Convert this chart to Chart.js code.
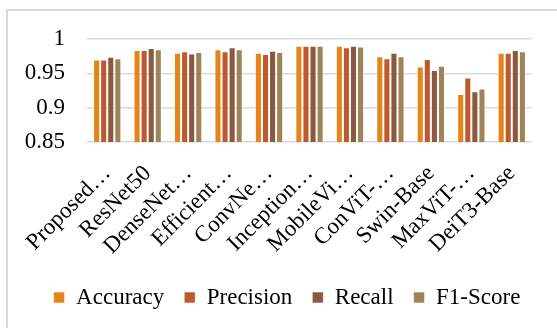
<!DOCTYPE html>
<html>
<head>
<meta charset="utf-8">
<script src="https://cdn.jsdelivr.net/npm/chart.js@4.4.0/dist/chart.umd.min.js"></script>
<style>
  html, body { margin: 0; padding: 0; background: #fff; }
  #wrap { position: relative; width: 557px; height: 328px; overflow: hidden; }
  #frame { position: absolute; left: 6px; top: 9px; width: 600px; height: 400px;
           border-left: 2px solid #d9d9d9; border-top: 2px solid #d9d9d9; }
  canvas { position: absolute; left: 0; top: 0; }
</style>
</head>
<body>
<div id="wrap">
  <div id="frame"></div>
  <canvas id="c" width="557" height="328"></canvas>
</div>
<script>
const categories = ["Proposed…", "ResNet50", "DenseNet…", "Efficient…", "ConvNe…", "Inception…", "MobileVi…", "ConViT-…", "Swin-Base", "MaxViT-…", "DeiT3-Base"];
const accuracy  = [0.970, 0.984, 0.980, 0.985, 0.980, 0.990, 0.990, 0.975, 0.960, 0.920, 0.980];
const precision = [0.970, 0.984, 0.982, 0.982, 0.978, 0.990, 0.988, 0.972, 0.971, 0.944, 0.980];
const recall    = [0.974, 0.987, 0.979, 0.988, 0.983, 0.990, 0.990, 0.980, 0.955, 0.924, 0.984];
const f1score   = [0.972, 0.985, 0.981, 0.985, 0.981, 0.990, 0.989, 0.975, 0.961, 0.928, 0.982];
const yTicks = [0.85, 0.9, 0.95, 1];

const FONT = "'Liberation Serif', 'Times New Roman', serif";
const mk = (label, data, color) => ({
  label, data, backgroundColor: color,
  borderColor: 'rgba(255,255,255,0.55)', borderWidth: 1,
  categoryPercentage: 0.7, barPercentage: 1.0
});

new Chart(document.getElementById('c'), {
  type: 'bar',
  data: {
    labels: categories,
    datasets: [
      mk('Accuracy', accuracy, '#E6841A'),
      mk('Precision', precision, '#C0582E'),
      mk('Recall', recall, '#8B5840'),
      mk('F1-Score', f1score, '#A08458')
    ]
  },
  options: {
    responsive: false,
    animation: false,
    layout: { padding: { left: 22, right: 5, top: 39, bottom: 9 } },
    plugins: {
      tooltip: { enabled: false },
      legend: {
        position: 'bottom',
        labels: {
          color: '#000',
          font: { family: FONT, size: 23 },
          boxWidth: 11, boxHeight: 11,
          padding: 20
        }
      }
    },
    scales: {
      x: {
        grid: { display: false },
        border: { display: false },
        ticks: {
          color: '#000', font: { family: FONT, size: 23 },
          minRotation: 45, maxRotation: 45, autoSkip: false, padding: 10
        },
        afterFit: s => { s.height = 124; }
      },
      y: {
        min: 0.85, max: 1,
        afterBuildTicks: s => { s.ticks = yTicks.map(v => ({ value: v })); },
        grid: { color: '#d9d9d9', lineWidth: 1.5, drawTicks: false },
        border: { display: false },
        ticks: {
          color: '#000', font: { family: FONT, size: 23 }, padding: 22, autoSkip: false,
          callback: v => String(Math.round(v * 100) / 100)
        },
        afterFit: s => { s.width = 65; }
      },
      y2: {
        position: 'right',
        min: 0.85, max: 1,
        grid: { display: false, drawTicks: false },
        border: { display: false },
        ticks: { display: false },
        afterFit: s => { s.width = 20; }
      }
    }
  }
});
</script>
</body>
</html>
